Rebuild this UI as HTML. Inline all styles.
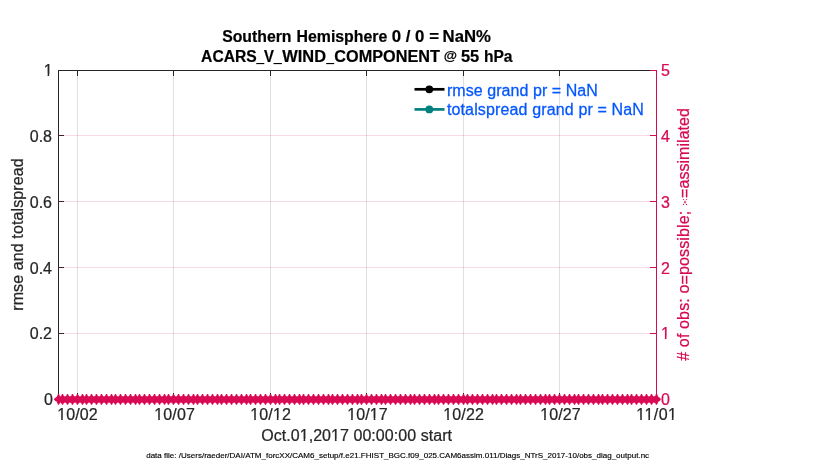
<!DOCTYPE html>
<html><head><meta charset="utf-8"><title>chart</title>
<style>
html,body{margin:0;padding:0;background:#fff;}
body{width:830px;height:470px;overflow:hidden;}
svg{display:block;will-change:transform;}
text{font-family:"Liberation Sans",sans-serif;}
</style></head><body>
<svg width="830" height="470" viewBox="0 0 830 470">
<rect x="0" y="0" width="830" height="470" fill="#ffffff"/>

<g shape-rendering="crispEdges" stroke-width="1">
<line x1="77.5" y1="71" x2="77.5" y2="399" stroke="#dfdfdf"/>
<line x1="173.5" y1="71" x2="173.5" y2="399" stroke="#dfdfdf"/>
<line x1="270.5" y1="71" x2="270.5" y2="399" stroke="#dfdfdf"/>
<line x1="366.5" y1="71" x2="366.5" y2="399" stroke="#dfdfdf"/>
<line x1="463.5" y1="71" x2="463.5" y2="399" stroke="#dfdfdf"/>
<line x1="559.5" y1="71" x2="559.5" y2="399" stroke="#dfdfdf"/>
</g>
<g shape-rendering="crispEdges" stroke-width="1">
<line x1="58" y1="70.5" x2="651" y2="70.5" stroke="#262626"/>
<line x1="58.5" y1="70" x2="58.5" y2="400" stroke="#262626"/>
<line x1="58" y1="399.5" x2="657" y2="399.5" stroke="#262626"/>
<line x1="77.5" y1="393" x2="77.5" y2="399" stroke="#262626"/>
<line x1="77.5" y1="71" x2="77.5" y2="76" stroke="#262626"/>
<line x1="173.5" y1="393" x2="173.5" y2="399" stroke="#262626"/>
<line x1="173.5" y1="71" x2="173.5" y2="76" stroke="#262626"/>
<line x1="270.5" y1="393" x2="270.5" y2="399" stroke="#262626"/>
<line x1="270.5" y1="71" x2="270.5" y2="76" stroke="#262626"/>
<line x1="366.5" y1="393" x2="366.5" y2="399" stroke="#262626"/>
<line x1="366.5" y1="71" x2="366.5" y2="76" stroke="#262626"/>
<line x1="463.5" y1="393" x2="463.5" y2="399" stroke="#262626"/>
<line x1="463.5" y1="71" x2="463.5" y2="76" stroke="#262626"/>
<line x1="559.5" y1="393" x2="559.5" y2="399" stroke="#262626"/>
<line x1="559.5" y1="71" x2="559.5" y2="76" stroke="#262626"/>
<line x1="656.5" y1="393" x2="656.5" y2="399" stroke="#262626"/>
<line x1="656.5" y1="71" x2="656.5" y2="76" stroke="#262626"/>
<line x1="59" y1="70.5" x2="64" y2="70.5" stroke="#262626"/>
<line x1="59" y1="135.5" x2="64" y2="135.5" stroke="#262626"/>
<line x1="59" y1="201.5" x2="64" y2="201.5" stroke="#262626"/>
<line x1="59" y1="267.5" x2="64" y2="267.5" stroke="#262626"/>
<line x1="59" y1="333.5" x2="64" y2="333.5" stroke="#262626"/>
<line x1="59" y1="399.5" x2="64" y2="399.5" stroke="#262626"/>
<line x1="656.5" y1="70" x2="656.5" y2="400" stroke="#d70a53"/>
<line x1="650" y1="70.5" x2="657" y2="70.5" stroke="#d70a53"/>
<line x1="650" y1="135.5" x2="657" y2="135.5" stroke="#d70a53"/>
<line x1="650" y1="201.5" x2="657" y2="201.5" stroke="#d70a53"/>
<line x1="650" y1="267.5" x2="657" y2="267.5" stroke="#d70a53"/>
<line x1="650" y1="333.5" x2="657" y2="333.5" stroke="#d70a53"/>
<line x1="650" y1="399.5" x2="657" y2="399.5" stroke="#d70a53"/>
<line x1="59" y1="135.5" x2="656" y2="135.5" stroke="#d70a53" stroke-opacity="0.15"/>
<line x1="59" y1="201.5" x2="656" y2="201.5" stroke="#d70a53" stroke-opacity="0.15"/>
<line x1="59" y1="267.5" x2="656" y2="267.5" stroke="#d70a53" stroke-opacity="0.15"/>
<line x1="59" y1="333.5" x2="656" y2="333.5" stroke="#d70a53" stroke-opacity="0.15"/>
</g>
<polygon points="53.70,399.30 55.60,397.40 56.60,397.00 58.00,394.00 59.00,394.00 60.00,396.35 61.00,396.35 62.00,394.00 63.00,394.00 64.00,396.35 66.00,396.35 67.00,394.00 68.00,394.00 69.00,396.35 71.00,396.35 72.00,394.00 73.00,394.00 74.00,396.35 76.00,396.35 77.00,394.00 78.00,394.00 79.00,396.35 81.00,396.35 82.00,394.00 83.00,394.00 84.00,396.35 85.00,396.35 86.00,394.00 87.00,394.00 88.00,396.35 90.00,396.35 91.00,394.00 92.00,394.00 93.00,396.35 95.00,396.35 96.00,394.00 97.00,394.00 98.00,396.35 100.00,396.35 101.00,394.00 102.00,394.00 103.00,396.35 105.00,396.35 106.00,394.00 107.00,394.00 108.00,396.35 110.00,396.35 111.00,394.00 112.00,394.00 113.00,396.35 114.00,396.35 115.00,394.00 116.00,394.00 117.00,396.35 119.00,396.35 120.00,394.00 121.00,394.00 122.00,396.35 124.00,396.35 125.00,394.00 126.00,394.00 127.00,396.35 129.00,396.35 130.00,394.00 131.00,394.00 132.00,396.35 134.00,396.35 135.00,394.00 136.00,394.00 137.00,396.35 138.00,396.35 139.00,394.00 140.00,394.00 141.00,396.35 143.00,396.35 144.00,394.00 145.00,394.00 146.00,396.35 148.00,396.35 149.00,394.00 150.00,394.00 151.00,396.35 153.00,396.35 154.00,394.00 155.00,394.00 156.00,396.35 158.00,396.35 159.00,394.00 160.00,394.00 161.00,396.35 163.00,396.35 164.00,394.00 165.00,394.00 166.00,396.35 167.00,396.35 168.00,394.00 169.00,394.00 170.00,396.35 172.00,396.35 173.00,394.00 174.00,394.00 175.00,396.35 177.00,396.35 178.00,394.00 179.00,394.00 180.00,396.35 182.00,396.35 183.00,394.00 184.00,394.00 185.00,396.35 187.00,396.35 188.00,394.00 189.00,394.00 190.00,396.35 192.00,396.35 193.00,394.00 194.00,394.00 195.00,396.35 196.00,396.35 197.00,394.00 198.00,394.00 199.00,396.35 201.00,396.35 202.00,394.00 203.00,394.00 204.00,396.35 206.00,396.35 207.00,394.00 208.00,394.00 209.00,396.35 211.00,396.35 212.00,394.00 213.00,394.00 214.00,396.35 216.00,396.35 217.00,394.00 218.00,394.00 219.00,396.35 220.00,396.35 221.00,394.00 222.00,394.00 223.00,396.35 225.00,396.35 226.00,394.00 227.00,394.00 228.00,396.35 230.00,396.35 231.00,394.00 232.00,394.00 233.00,396.35 235.00,396.35 236.00,394.00 237.00,394.00 238.00,396.35 240.00,396.35 241.00,394.00 242.00,394.00 243.00,396.35 245.00,396.35 246.00,394.00 247.00,394.00 248.00,396.35 249.00,396.35 250.00,394.00 251.00,394.00 252.00,396.35 254.00,396.35 255.00,394.00 256.00,394.00 257.00,396.35 259.00,396.35 260.00,394.00 261.00,394.00 262.00,396.35 264.00,396.35 265.00,394.00 266.00,394.00 267.00,396.35 269.00,396.35 270.00,394.00 271.00,394.00 272.00,396.35 274.00,396.35 275.00,394.00 276.00,394.00 277.00,396.35 278.00,396.35 279.00,394.00 280.00,394.00 281.00,396.35 283.00,396.35 284.00,394.00 285.00,394.00 286.00,396.35 288.00,396.35 289.00,394.00 290.00,394.00 291.00,396.35 293.00,396.35 294.00,394.00 295.00,394.00 296.00,396.35 298.00,396.35 299.00,394.00 300.00,394.00 301.00,396.35 302.00,396.35 303.00,394.00 304.00,394.00 305.00,396.35 307.00,396.35 308.00,394.00 309.00,394.00 310.00,396.35 312.00,396.35 313.00,394.00 314.00,394.00 315.00,396.35 317.00,396.35 318.00,394.00 319.00,394.00 320.00,396.35 322.00,396.35 323.00,394.00 324.00,394.00 325.00,396.35 327.00,396.35 328.00,394.00 329.00,394.00 330.00,396.35 331.00,396.35 332.00,394.00 333.00,394.00 334.00,396.35 336.00,396.35 337.00,394.00 338.00,394.00 339.00,396.35 341.00,396.35 342.00,394.00 343.00,394.00 344.00,396.35 346.00,396.35 347.00,394.00 348.00,394.00 349.00,396.35 351.00,396.35 352.00,394.00 353.00,394.00 354.00,396.35 356.00,396.35 357.00,394.00 358.00,394.00 359.00,396.35 360.00,396.35 361.00,394.00 362.00,394.00 363.00,396.35 365.00,396.35 366.00,394.00 367.00,394.00 368.00,396.35 370.00,396.35 371.00,394.00 372.00,394.00 373.00,396.35 375.00,396.35 376.00,394.00 377.00,394.00 378.00,396.35 380.00,396.35 381.00,394.00 382.00,394.00 383.00,396.35 384.00,396.35 385.00,394.00 386.00,394.00 387.00,396.35 389.00,396.35 390.00,394.00 391.00,394.00 392.00,396.35 394.00,396.35 395.00,394.00 396.00,394.00 397.00,396.35 399.00,396.35 400.00,394.00 401.00,394.00 402.00,396.35 404.00,396.35 405.00,394.00 406.00,394.00 407.00,396.35 409.00,396.35 410.00,394.00 411.00,394.00 412.00,396.35 413.00,396.35 414.00,394.00 415.00,394.00 416.00,396.35 418.00,396.35 419.00,394.00 420.00,394.00 421.00,396.35 423.00,396.35 424.00,394.00 425.00,394.00 426.00,396.35 428.00,396.35 429.00,394.00 430.00,394.00 431.00,396.35 433.00,396.35 434.00,394.00 435.00,394.00 436.00,396.35 437.00,396.35 438.00,394.00 439.00,394.00 440.00,396.35 442.00,396.35 443.00,394.00 444.00,394.00 445.00,396.35 447.00,396.35 448.00,394.00 449.00,394.00 450.00,396.35 452.00,396.35 453.00,394.00 454.00,394.00 455.00,396.35 457.00,396.35 458.00,394.00 459.00,394.00 460.00,396.35 462.00,396.35 463.00,394.00 464.00,394.00 465.00,396.35 466.00,396.35 467.00,394.00 468.00,394.00 469.00,396.35 471.00,396.35 472.00,394.00 473.00,394.00 474.00,396.35 476.00,396.35 477.00,394.00 478.00,394.00 479.00,396.35 481.00,396.35 482.00,394.00 483.00,394.00 484.00,396.35 486.00,396.35 487.00,394.00 488.00,394.00 489.00,396.35 491.00,396.35 492.00,394.00 493.00,394.00 494.00,396.35 495.00,396.35 496.00,394.00 497.00,394.00 498.00,396.35 500.00,396.35 501.00,394.00 502.00,394.00 503.00,396.35 505.00,396.35 506.00,394.00 507.00,394.00 508.00,396.35 510.00,396.35 511.00,394.00 512.00,394.00 513.00,396.35 515.00,396.35 516.00,394.00 517.00,394.00 518.00,396.35 519.00,396.35 520.00,394.00 521.00,394.00 522.00,396.35 524.00,396.35 525.00,394.00 526.00,394.00 527.00,396.35 529.00,396.35 530.00,394.00 531.00,394.00 532.00,396.35 534.00,396.35 535.00,394.00 536.00,394.00 537.00,396.35 539.00,396.35 540.00,394.00 541.00,394.00 542.00,396.35 544.00,396.35 545.00,394.00 546.00,394.00 547.00,396.35 548.00,396.35 549.00,394.00 550.00,394.00 551.00,396.35 553.00,396.35 554.00,394.00 555.00,394.00 556.00,396.35 558.00,396.35 559.00,394.00 560.00,394.00 561.00,396.35 563.00,396.35 564.00,394.00 565.00,394.00 566.00,396.35 568.00,396.35 569.00,394.00 570.00,394.00 571.00,396.35 573.00,396.35 574.00,394.00 575.00,394.00 576.00,396.35 577.00,396.35 578.00,394.00 579.00,394.00 580.00,396.35 582.00,396.35 583.00,394.00 584.00,394.00 585.00,396.35 587.00,396.35 588.00,394.00 589.00,394.00 590.00,396.35 592.00,396.35 593.00,394.00 594.00,394.00 595.00,396.35 597.00,396.35 598.00,394.00 599.00,394.00 600.00,396.35 601.00,396.35 602.00,394.00 603.00,394.00 604.00,396.35 606.00,396.35 607.00,394.00 608.00,394.00 609.00,396.35 611.00,396.35 612.00,394.00 613.00,394.00 614.00,396.35 616.00,396.35 617.00,394.00 618.00,394.00 619.00,396.35 621.00,396.35 622.00,394.00 623.00,394.00 624.00,396.35 626.00,396.35 627.00,394.00 628.00,394.00 629.00,396.35 630.00,396.35 631.00,394.00 632.00,394.00 633.00,396.35 635.00,396.35 636.00,394.00 637.00,394.00 638.00,396.35 640.00,396.35 641.00,394.00 642.00,394.00 643.00,396.35 645.00,396.35 646.00,394.00 647.00,394.00 648.00,396.35 650.00,396.35 651.00,394.00 652.00,394.00 653.00,396.35 655.00,396.35 656.00,394.00 657.00,394.00 658.50,397.00 659.50,397.40 661.00,399.30 659.50,401.20 658.50,401.60 657.00,404.80 656.00,404.80 655.00,402.65 653.00,402.65 652.00,404.80 651.00,404.80 650.00,402.65 648.00,402.65 647.00,404.80 646.00,404.80 645.00,402.65 643.00,402.65 642.00,404.80 641.00,404.80 640.00,402.65 638.00,402.65 637.00,404.80 636.00,404.80 635.00,402.65 633.00,402.65 632.00,404.80 631.00,404.80 630.00,402.65 629.00,402.65 628.00,404.80 627.00,404.80 626.00,402.65 624.00,402.65 623.00,404.80 622.00,404.80 621.00,402.65 619.00,402.65 618.00,404.80 617.00,404.80 616.00,402.65 614.00,402.65 613.00,404.80 612.00,404.80 611.00,402.65 609.00,402.65 608.00,404.80 607.00,404.80 606.00,402.65 604.00,402.65 603.00,404.80 602.00,404.80 601.00,402.65 600.00,402.65 599.00,404.80 598.00,404.80 597.00,402.65 595.00,402.65 594.00,404.80 593.00,404.80 592.00,402.65 590.00,402.65 589.00,404.80 588.00,404.80 587.00,402.65 585.00,402.65 584.00,404.80 583.00,404.80 582.00,402.65 580.00,402.65 579.00,404.80 578.00,404.80 577.00,402.65 576.00,402.65 575.00,404.80 574.00,404.80 573.00,402.65 571.00,402.65 570.00,404.80 569.00,404.80 568.00,402.65 566.00,402.65 565.00,404.80 564.00,404.80 563.00,402.65 561.00,402.65 560.00,404.80 559.00,404.80 558.00,402.65 556.00,402.65 555.00,404.80 554.00,404.80 553.00,402.65 551.00,402.65 550.00,404.80 549.00,404.80 548.00,402.65 547.00,402.65 546.00,404.80 545.00,404.80 544.00,402.65 542.00,402.65 541.00,404.80 540.00,404.80 539.00,402.65 537.00,402.65 536.00,404.80 535.00,404.80 534.00,402.65 532.00,402.65 531.00,404.80 530.00,404.80 529.00,402.65 527.00,402.65 526.00,404.80 525.00,404.80 524.00,402.65 522.00,402.65 521.00,404.80 520.00,404.80 519.00,402.65 518.00,402.65 517.00,404.80 516.00,404.80 515.00,402.65 513.00,402.65 512.00,404.80 511.00,404.80 510.00,402.65 508.00,402.65 507.00,404.80 506.00,404.80 505.00,402.65 503.00,402.65 502.00,404.80 501.00,404.80 500.00,402.65 498.00,402.65 497.00,404.80 496.00,404.80 495.00,402.65 494.00,402.65 493.00,404.80 492.00,404.80 491.00,402.65 489.00,402.65 488.00,404.80 487.00,404.80 486.00,402.65 484.00,402.65 483.00,404.80 482.00,404.80 481.00,402.65 479.00,402.65 478.00,404.80 477.00,404.80 476.00,402.65 474.00,402.65 473.00,404.80 472.00,404.80 471.00,402.65 469.00,402.65 468.00,404.80 467.00,404.80 466.00,402.65 465.00,402.65 464.00,404.80 463.00,404.80 462.00,402.65 460.00,402.65 459.00,404.80 458.00,404.80 457.00,402.65 455.00,402.65 454.00,404.80 453.00,404.80 452.00,402.65 450.00,402.65 449.00,404.80 448.00,404.80 447.00,402.65 445.00,402.65 444.00,404.80 443.00,404.80 442.00,402.65 440.00,402.65 439.00,404.80 438.00,404.80 437.00,402.65 436.00,402.65 435.00,404.80 434.00,404.80 433.00,402.65 431.00,402.65 430.00,404.80 429.00,404.80 428.00,402.65 426.00,402.65 425.00,404.80 424.00,404.80 423.00,402.65 421.00,402.65 420.00,404.80 419.00,404.80 418.00,402.65 416.00,402.65 415.00,404.80 414.00,404.80 413.00,402.65 412.00,402.65 411.00,404.80 410.00,404.80 409.00,402.65 407.00,402.65 406.00,404.80 405.00,404.80 404.00,402.65 402.00,402.65 401.00,404.80 400.00,404.80 399.00,402.65 397.00,402.65 396.00,404.80 395.00,404.80 394.00,402.65 392.00,402.65 391.00,404.80 390.00,404.80 389.00,402.65 387.00,402.65 386.00,404.80 385.00,404.80 384.00,402.65 383.00,402.65 382.00,404.80 381.00,404.80 380.00,402.65 378.00,402.65 377.00,404.80 376.00,404.80 375.00,402.65 373.00,402.65 372.00,404.80 371.00,404.80 370.00,402.65 368.00,402.65 367.00,404.80 366.00,404.80 365.00,402.65 363.00,402.65 362.00,404.80 361.00,404.80 360.00,402.65 359.00,402.65 358.00,404.80 357.00,404.80 356.00,402.65 354.00,402.65 353.00,404.80 352.00,404.80 351.00,402.65 349.00,402.65 348.00,404.80 347.00,404.80 346.00,402.65 344.00,402.65 343.00,404.80 342.00,404.80 341.00,402.65 339.00,402.65 338.00,404.80 337.00,404.80 336.00,402.65 334.00,402.65 333.00,404.80 332.00,404.80 331.00,402.65 330.00,402.65 329.00,404.80 328.00,404.80 327.00,402.65 325.00,402.65 324.00,404.80 323.00,404.80 322.00,402.65 320.00,402.65 319.00,404.80 318.00,404.80 317.00,402.65 315.00,402.65 314.00,404.80 313.00,404.80 312.00,402.65 310.00,402.65 309.00,404.80 308.00,404.80 307.00,402.65 305.00,402.65 304.00,404.80 303.00,404.80 302.00,402.65 301.00,402.65 300.00,404.80 299.00,404.80 298.00,402.65 296.00,402.65 295.00,404.80 294.00,404.80 293.00,402.65 291.00,402.65 290.00,404.80 289.00,404.80 288.00,402.65 286.00,402.65 285.00,404.80 284.00,404.80 283.00,402.65 281.00,402.65 280.00,404.80 279.00,404.80 278.00,402.65 277.00,402.65 276.00,404.80 275.00,404.80 274.00,402.65 272.00,402.65 271.00,404.80 270.00,404.80 269.00,402.65 267.00,402.65 266.00,404.80 265.00,404.80 264.00,402.65 262.00,402.65 261.00,404.80 260.00,404.80 259.00,402.65 257.00,402.65 256.00,404.80 255.00,404.80 254.00,402.65 252.00,402.65 251.00,404.80 250.00,404.80 249.00,402.65 248.00,402.65 247.00,404.80 246.00,404.80 245.00,402.65 243.00,402.65 242.00,404.80 241.00,404.80 240.00,402.65 238.00,402.65 237.00,404.80 236.00,404.80 235.00,402.65 233.00,402.65 232.00,404.80 231.00,404.80 230.00,402.65 228.00,402.65 227.00,404.80 226.00,404.80 225.00,402.65 223.00,402.65 222.00,404.80 221.00,404.80 220.00,402.65 219.00,402.65 218.00,404.80 217.00,404.80 216.00,402.65 214.00,402.65 213.00,404.80 212.00,404.80 211.00,402.65 209.00,402.65 208.00,404.80 207.00,404.80 206.00,402.65 204.00,402.65 203.00,404.80 202.00,404.80 201.00,402.65 199.00,402.65 198.00,404.80 197.00,404.80 196.00,402.65 195.00,402.65 194.00,404.80 193.00,404.80 192.00,402.65 190.00,402.65 189.00,404.80 188.00,404.80 187.00,402.65 185.00,402.65 184.00,404.80 183.00,404.80 182.00,402.65 180.00,402.65 179.00,404.80 178.00,404.80 177.00,402.65 175.00,402.65 174.00,404.80 173.00,404.80 172.00,402.65 170.00,402.65 169.00,404.80 168.00,404.80 167.00,402.65 166.00,402.65 165.00,404.80 164.00,404.80 163.00,402.65 161.00,402.65 160.00,404.80 159.00,404.80 158.00,402.65 156.00,402.65 155.00,404.80 154.00,404.80 153.00,402.65 151.00,402.65 150.00,404.80 149.00,404.80 148.00,402.65 146.00,402.65 145.00,404.80 144.00,404.80 143.00,402.65 141.00,402.65 140.00,404.80 139.00,404.80 138.00,402.65 137.00,402.65 136.00,404.80 135.00,404.80 134.00,402.65 132.00,402.65 131.00,404.80 130.00,404.80 129.00,402.65 127.00,402.65 126.00,404.80 125.00,404.80 124.00,402.65 122.00,402.65 121.00,404.80 120.00,404.80 119.00,402.65 117.00,402.65 116.00,404.80 115.00,404.80 114.00,402.65 113.00,402.65 112.00,404.80 111.00,404.80 110.00,402.65 108.00,402.65 107.00,404.80 106.00,404.80 105.00,402.65 103.00,402.65 102.00,404.80 101.00,404.80 100.00,402.65 98.00,402.65 97.00,404.80 96.00,404.80 95.00,402.65 93.00,402.65 92.00,404.80 91.00,404.80 90.00,402.65 88.00,402.65 87.00,404.80 86.00,404.80 85.00,402.65 84.00,402.65 83.00,404.80 82.00,404.80 81.00,402.65 79.00,402.65 78.00,404.80 77.00,404.80 76.00,402.65 74.00,402.65 73.00,404.80 72.00,404.80 71.00,402.65 69.00,402.65 68.00,404.80 67.00,404.80 66.00,402.65 64.00,402.65 63.00,404.80 62.00,404.80 61.00,402.65 60.00,402.65 59.00,404.80 58.00,404.80 56.60,401.60 55.60,401.20" fill="#d70a53"/>
<g font-size="16" fill="#262626" stroke="#262626" stroke-width="0.24">
<text x="57.25" y="420" textLength="40.5">10/02</text>
<text x="154.35" y="420" textLength="40.5">10/07</text>
<text x="250.35" y="420" textLength="40.5">10/12</text>
<text x="347.25" y="420" textLength="40.5">10/17</text>
<text x="443.35" y="420" textLength="40.5">10/22</text>
<text x="540.25" y="420" textLength="40.5">10/27</text>
<text x="636.35" y="420" textLength="40.5">11/01</text>
<text x="52.6" y="76.4" text-anchor="end">1</text>
<text x="52" y="142.3" text-anchor="end">0.8</text>
<text x="52" y="208.0" text-anchor="end">0.6</text>
<text x="52" y="273.7" text-anchor="end">0.4</text>
<text x="52" y="339.4" text-anchor="end">0.2</text>
<text x="53" y="405.4" text-anchor="end">0</text>
</g>
<g font-size="16" fill="#d70a53" stroke="#d70a53" stroke-width="0.24">
<text x="661" y="76.4" text-anchor="start">5</text>
<text x="661" y="142.3" text-anchor="start">4</text>
<text x="661" y="208.0" text-anchor="start">3</text>
<text x="661" y="273.7" text-anchor="start">2</text>
<text x="661" y="339.4" text-anchor="start">1</text>
<text x="661" y="405.4" text-anchor="start">0</text>
</g>
<text x="261.2" y="441" font-size="16" fill="#262626" stroke="#262626" stroke-width="0.24" textLength="190.8">Oct.01,2017 00:00:00 start</text>
<text x="146.2" y="457.5" font-size="8" fill="#000000" stroke="#000" stroke-width="0.15" textLength="502.9">data file: /Users/raeder/DAI/ATM_forcXX/CAM6_setup/f.e21.FHIST_BGC.f09_025.CAM6assim.011/Diags_NTrS_2017-10/obs_diag_output.nc</text>
<text transform="translate(22.8,0) rotate(-90)" x="-310.8" y="0" font-size="16" fill="#262626" stroke="#262626" stroke-width="0.24" textLength="152.5">rmse and totalspread</text>
<g transform="translate(689,0) rotate(-90)" font-size="16" fill="#d70a53" stroke="#d70a53" stroke-width="0.24">
<text x="-360.8" y="0" textLength="150.1"># of obs: o<tspan dy="1.3">=</tspan><tspan dy="-1.3">possible;</tspan></text>
<text x="-197.9" y="0" textLength="89.8"><tspan dy="1.3">=</tspan><tspan dy="-1.3">assimilated</tspan></text>
</g>
<g fill="#d70a53"><circle cx="683.5" cy="199.5" r="0.62"/><circle cx="686.5" cy="199.5" r="0.62"/><circle cx="683.5" cy="204.4" r="0.62"/><circle cx="686.5" cy="204.4" r="0.62"/><ellipse cx="685" cy="201.95" rx="0.85" ry="1.5" opacity="0.8"/><ellipse cx="685" cy="201.95" rx="2.6" ry="1.2" opacity="0.08"/></g>
<g font-size="16" font-weight="bold" fill="#000" stroke="#000" stroke-width="0.2">
<text x="222.2" y="41.6" textLength="69.3" lengthAdjust="spacingAndGlyphs">Southern</text>
<text x="296.5" y="41.6" textLength="90.8" lengthAdjust="spacingAndGlyphs">Hemisphere</text>
<text x="391.75" y="41.6" textLength="47.2" lengthAdjust="spacingAndGlyphs">0 / 0 =</text>
<text x="442.6" y="41.6" textLength="48.3" lengthAdjust="spacingAndGlyphs">NaN%</text>
</g>
<g font-size="16" font-weight="bold" fill="#000" stroke="#000" stroke-width="0.2">
<text x="201.1" y="61.6" textLength="55.6" lengthAdjust="spacingAndGlyphs">ACARS</text>
<text x="264.05" y="61.6" textLength="9.92" lengthAdjust="spacingAndGlyphs">V</text>
<text x="282.3" y="61.6" textLength="43.7" lengthAdjust="spacingAndGlyphs">WIND</text>
<text x="334.37" y="61.6" textLength="105.5" lengthAdjust="spacingAndGlyphs">COMPONENT</text>
<text x="460.9" y="61.6" textLength="18.24" lengthAdjust="spacingAndGlyphs">55</text>
<text x="483.9" y="61.6" textLength="28.56" lengthAdjust="spacingAndGlyphs">hPa</text>
</g>
<text x="443.76" y="60.2" font-size="13.6" font-weight="bold" fill="#000" stroke="#000" stroke-width="0.2">@</text>
<g stroke="#000" stroke-width="1.15">
<line x1="256.3" y1="63.55" x2="264.3" y2="63.55"/>
<line x1="273.5" y1="63.55" x2="281.9" y2="63.55"/>
<line x1="326.2" y1="63.55" x2="334.2" y2="63.55"/>
</g>
<line x1="414.5" y1="89.3" x2="444.5" y2="89.3" stroke="#000" stroke-width="2.7"/>
<circle cx="429.3" cy="89.3" r="3.9" fill="#000"/>
<line x1="414.5" y1="109.4" x2="444.5" y2="109.4" stroke="#008080" stroke-width="2.7"/>
<circle cx="429.3" cy="109.4" r="3.9" fill="#008080"/>
<text x="446.9" y="96.1" font-size="16" fill="#0457ff" stroke="#0457ff" stroke-width="0.28" textLength="150.95">rmse grand pr = NaN</text>
<text x="446.9" y="115.1" font-size="16" fill="#0457ff" stroke="#0457ff" stroke-width="0.28" textLength="197.0">totalspread grand pr = NaN</text>
<g fill="#ffffff">
<rect x="57.45" y="418.00" width="3.66" height="2.5"/>
<rect x="62.79" y="418.00" width="4.16" height="2.5"/>
<rect x="154.55" y="418.00" width="3.66" height="2.5"/>
<rect x="159.89" y="418.00" width="4.16" height="2.5"/>
<rect x="250.55" y="418.00" width="3.66" height="2.5"/>
<rect x="255.89" y="418.00" width="4.16" height="2.5"/>
<rect x="273.13" y="418.00" width="3.66" height="2.5"/>
<rect x="278.47" y="418.00" width="3.26" height="2.5"/>
<rect x="347.45" y="418.00" width="3.66" height="2.5"/>
<rect x="352.79" y="418.00" width="4.16" height="2.5"/>
<rect x="370.03" y="418.00" width="3.66" height="2.5"/>
<rect x="375.37" y="418.00" width="4.16" height="2.5"/>
<rect x="443.55" y="418.00" width="3.66" height="2.5"/>
<rect x="448.89" y="418.00" width="4.16" height="2.5"/>
<rect x="540.45" y="418.00" width="3.66" height="2.5"/>
<rect x="545.79" y="418.00" width="4.16" height="2.5"/>
<rect x="636.55" y="418.00" width="3.66" height="2.5"/>
<rect x="641.89" y="418.00" width="3.26" height="2.5"/>
<rect x="644.67" y="418.00" width="3.66" height="2.5"/>
<rect x="650.01" y="418.00" width="3.26" height="2.5"/>
<rect x="668.14" y="418.00" width="3.66" height="2.5"/>
<rect x="673.48" y="418.00" width="4.16" height="2.5"/>
<rect x="43.89" y="74.00" width="3.66" height="2.5"/>
<rect x="49.23" y="74.00" width="4.16" height="2.5"/>
<rect x="661.20" y="337.00" width="3.66" height="2.5"/>
<rect x="666.54" y="337.00" width="4.16" height="2.5"/>
<rect x="299.90" y="439.00" width="3.66" height="2.5"/>
<rect x="305.24" y="439.00" width="4.16" height="2.5"/>
<rect x="331.25" y="439.00" width="3.66" height="2.5"/>
<rect x="336.59" y="439.00" width="4.16" height="2.5"/>
</g>
</svg></body></html>
